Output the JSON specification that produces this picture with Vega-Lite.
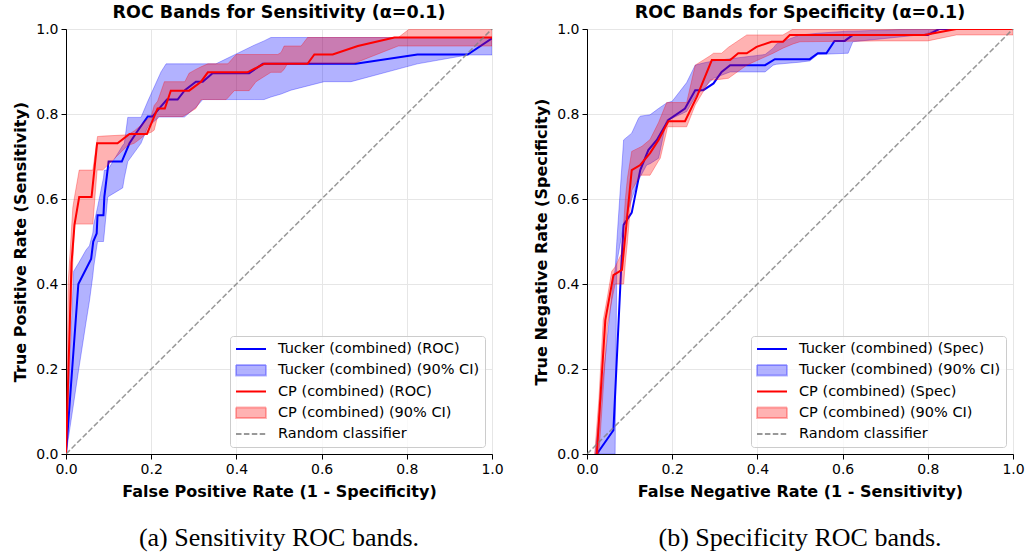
{
  "$schema": "https://vega.github.io/schema/vega-lite/v6.json",
  "background": "white",
  "padding": {"left": 12, "top": 3, "right": 6, "bottom": 2},
  "datasets": {
    "a_t_roc": [{"x":0,"y":0},{"x":0.029,"y":0.40},{"x":0.059,"y":0.459},{"x":0.064,"y":0.50},{"x":0.072,"y":0.519},{"x":0.074,"y":0.562},{"x":0.088,"y":0.562},{"x":0.09,"y":0.605},{"x":0.10,"y":0.688},{"x":0.131,"y":0.688},{"x":0.149,"y":0.731},{"x":0.164,"y":0.754},{"x":0.192,"y":0.794},{"x":0.203,"y":0.794},{"x":0.219,"y":0.813},{"x":0.237,"y":0.834},{"x":0.262,"y":0.834},{"x":0.279,"y":0.856},{"x":0.305,"y":0.876},{"x":0.321,"y":0.876},{"x":0.344,"y":0.896},{"x":0.43,"y":0.896},{"x":0.462,"y":0.918},{"x":0.68,"y":0.918},{"x":0.825,"y":0.94},{"x":0.943,"y":0.94},{"x":1.0,"y":0.978}],
    "a_t_ci": [{"x":0,"lo":0,"hi":0},{"x":0.018,"lo":0.12,"hi":0.43},{"x":0.03,"lo":0.2,"hi":0.45},{"x":0.047,"lo":0.31,"hi":0.48},{"x":0.055,"lo":0.36,"hi":0.49},{"x":0.063,"lo":0.42,"hi":0.52},{"x":0.065,"lo":0.44,"hi":0.54},{"x":0.074,"lo":0.5,"hi":0.58},{"x":0.082,"lo":0.5,"hi":0.62},{"x":0.088,"lo":0.5,"hi":0.65},{"x":0.09,"lo":0.52,"hi":0.668},{"x":0.098,"lo":0.605,"hi":0.668},{"x":0.133,"lo":0.626,"hi":0.726},{"x":0.137,"lo":0.65,"hi":0.731},{"x":0.145,"lo":0.688,"hi":0.792},{"x":0.176,"lo":0.731,"hi":0.792},{"x":0.192,"lo":0.77,"hi":0.83},{"x":0.219,"lo":0.793,"hi":0.89},{"x":0.223,"lo":0.793,"hi":0.899},{"x":0.235,"lo":0.793,"hi":0.918},{"x":0.278,"lo":0.793,"hi":0.918},{"x":0.305,"lo":0.816,"hi":0.918},{"x":0.321,"lo":0.834,"hi":0.918},{"x":0.352,"lo":0.834,"hi":0.918},{"x":0.442,"lo":0.834,"hi":0.962},{"x":0.465,"lo":0.834,"hi":0.972},{"x":0.481,"lo":0.84,"hi":0.98},{"x":0.505,"lo":0.847,"hi":0.98},{"x":0.528,"lo":0.856,"hi":0.98},{"x":0.606,"lo":0.876,"hi":0.98},{"x":0.669,"lo":0.876,"hi":0.98},{"x":0.825,"lo":0.918,"hi":0.98},{"x":0.943,"lo":0.939,"hi":0.98},{"x":1.0,"lo":0.939,"hi":0.98}],
    "a_c_roc": [{"x":0,"y":0},{"x":0.013,"y":0.45},{"x":0.02,"y":0.54},{"x":0.031,"y":0.605},{"x":0.06,"y":0.605},{"x":0.073,"y":0.731},{"x":0.121,"y":0.731},{"x":0.149,"y":0.753},{"x":0.19,"y":0.753},{"x":0.215,"y":0.813},{"x":0.232,"y":0.813},{"x":0.246,"y":0.855},{"x":0.289,"y":0.855},{"x":0.317,"y":0.876},{"x":0.333,"y":0.898},{"x":0.426,"y":0.898},{"x":0.465,"y":0.918},{"x":0.567,"y":0.918},{"x":0.583,"y":0.94},{"x":0.626,"y":0.94},{"x":0.685,"y":0.96},{"x":0.771,"y":0.98},{"x":1.0,"y":0.98}],
    "a_c_ci": [{"x":0,"lo":0,"hi":0},{"x":0.005,"lo":0.15,"hi":0.40},{"x":0.016,"lo":0.45,"hi":0.58},{"x":0.02,"lo":0.541,"hi":0.605},{"x":0.031,"lo":0.541,"hi":0.668},{"x":0.063,"lo":0.541,"hi":0.668},{"x":0.073,"lo":0.668,"hi":0.74},{"x":0.074,"lo":0.668,"hi":0.747},{"x":0.086,"lo":0.668,"hi":0.748},{"x":0.145,"lo":0.726,"hi":0.751},{"x":0.16,"lo":0.731,"hi":0.76},{"x":0.172,"lo":0.74,"hi":0.77},{"x":0.188,"lo":0.753,"hi":0.785},{"x":0.2,"lo":0.757,"hi":0.794},{"x":0.207,"lo":0.762,"hi":0.82},{"x":0.215,"lo":0.794,"hi":0.83},{"x":0.223,"lo":0.794,"hi":0.853},{"x":0.231,"lo":0.794,"hi":0.876},{"x":0.274,"lo":0.794,"hi":0.876},{"x":0.279,"lo":0.797,"hi":0.876},{"x":0.289,"lo":0.803,"hi":0.896},{"x":0.305,"lo":0.813,"hi":0.905},{"x":0.317,"lo":0.834,"hi":0.911},{"x":0.333,"lo":0.834,"hi":0.918},{"x":0.376,"lo":0.834,"hi":0.918},{"x":0.38,"lo":0.838,"hi":0.918},{"x":0.395,"lo":0.855,"hi":0.935},{"x":0.40,"lo":0.855,"hi":0.94},{"x":0.43,"lo":0.855,"hi":0.94},{"x":0.446,"lo":0.876,"hi":0.94},{"x":0.481,"lo":0.898,"hi":0.94},{"x":0.497,"lo":0.898,"hi":0.94},{"x":0.505,"lo":0.898,"hi":0.945},{"x":0.512,"lo":0.905,"hi":0.96},{"x":0.52,"lo":0.919,"hi":0.96},{"x":0.552,"lo":0.919,"hi":0.96},{"x":0.567,"lo":0.919,"hi":0.98},{"x":0.676,"lo":0.919,"hi":0.98},{"x":0.78,"lo":0.96,"hi":0.98},{"x":0.806,"lo":0.96,"hi":1.0},{"x":1.0,"lo":0.96,"hi":1.0}],
    "diag": [{"x":0,"y":0},{"x":1,"y":1}],
    "b_t_spec": [{"x":0.023,"y":0},{"x":0.062,"y":0.056},{"x":0.08,"y":0.433},{"x":0.086,"y":0.539},{"x":0.105,"y":0.568},{"x":0.125,"y":0.668},{"x":0.144,"y":0.715},{"x":0.164,"y":0.739},{"x":0.191,"y":0.786},{"x":0.23,"y":0.813},{"x":0.254,"y":0.856},{"x":0.273,"y":0.856},{"x":0.297,"y":0.872},{"x":0.316,"y":0.899},{"x":0.336,"y":0.915},{"x":0.418,"y":0.915},{"x":0.441,"y":0.929},{"x":0.523,"y":0.929},{"x":0.542,"y":0.943},{"x":0.562,"y":0.943},{"x":0.581,"y":0.972},{"x":0.605,"y":0.972},{"x":0.624,"y":0.986},{"x":0.80,"y":0.986},{"x":0.827,"y":1.0},{"x":1.0,"y":1.0}],
    "b_t_ci": [{"x":0.019,"lo":0,"hi":0},{"x":0.062,"lo":0,"hi":0.41},{"x":0.066,"lo":0,"hi":0.433},{"x":0.07,"lo":0.45,"hi":0.5},{"x":0.086,"lo":0.54,"hi":0.739},{"x":0.105,"lo":0.6,"hi":0.755},{"x":0.121,"lo":0.645,"hi":0.79},{"x":0.125,"lo":0.652,"hi":0.795},{"x":0.14,"lo":0.68,"hi":0.797},{"x":0.148,"lo":0.683,"hi":0.798},{"x":0.168,"lo":0.696,"hi":0.813},{"x":0.187,"lo":0.786,"hi":0.826},{"x":0.2,"lo":0.79,"hi":0.83},{"x":0.234,"lo":0.806,"hi":0.874},{"x":0.254,"lo":0.84,"hi":0.915},{"x":0.273,"lo":0.86,"hi":0.92},{"x":0.297,"lo":0.884,"hi":0.925},{"x":0.336,"lo":0.899,"hi":0.93},{"x":0.418,"lo":0.899,"hi":0.94},{"x":0.437,"lo":0.915,"hi":0.955},{"x":0.445,"lo":0.917,"hi":0.965},{"x":0.5,"lo":0.922,"hi":0.986},{"x":0.523,"lo":0.925,"hi":0.988},{"x":0.542,"lo":0.94,"hi":0.99},{"x":0.613,"lo":0.943,"hi":0.995},{"x":0.624,"lo":0.97,"hi":0.995},{"x":0.77,"lo":0.985,"hi":1.0},{"x":0.788,"lo":0.986,"hi":1.0},{"x":0.827,"lo":1.0,"hi":1.0},{"x":1.0,"lo":1.0,"hi":1.0}],
    "b_c_spec": [{"x":0.023,"y":0},{"x":0.043,"y":0.315},{"x":0.062,"y":0.421},{"x":0.082,"y":0.433},{"x":0.105,"y":0.668},{"x":0.125,"y":0.68},{"x":0.148,"y":0.708},{"x":0.168,"y":0.739},{"x":0.191,"y":0.783},{"x":0.23,"y":0.783},{"x":0.258,"y":0.841},{"x":0.293,"y":0.927},{"x":0.336,"y":0.927},{"x":0.355,"y":0.943},{"x":0.375,"y":0.943},{"x":0.398,"y":0.958},{"x":0.433,"y":0.97},{"x":0.46,"y":0.97},{"x":0.476,"y":0.986},{"x":0.792,"y":0.986},{"x":0.867,"y":1.0},{"x":1.0,"y":1.0}],
    "b_c_ci": [{"x":0.018,"lo":0,"hi":0},{"x":0.028,"lo":0,"hi":0.13},{"x":0.038,"lo":0.15,"hi":0.315},{"x":0.048,"lo":0.30,"hi":0.37},{"x":0.058,"lo":0.36,"hi":0.43},{"x":0.066,"lo":0.40,"hi":0.44},{"x":0.08,"lo":0.40,"hi":0.47},{"x":0.086,"lo":0.40,"hi":0.54},{"x":0.09,"lo":0.45,"hi":0.6},{"x":0.095,"lo":0.5,"hi":0.65},{"x":0.105,"lo":0.62,"hi":0.712},{"x":0.125,"lo":0.656,"hi":0.722},{"x":0.129,"lo":0.656,"hi":0.724},{"x":0.148,"lo":0.656,"hi":0.74},{"x":0.168,"lo":0.69,"hi":0.78},{"x":0.172,"lo":0.696,"hi":0.79},{"x":0.187,"lo":0.76,"hi":0.827},{"x":0.189,"lo":0.77,"hi":0.827},{"x":0.234,"lo":0.77,"hi":0.827},{"x":0.254,"lo":0.821,"hi":0.915},{"x":0.289,"lo":0.88,"hi":0.937},{"x":0.297,"lo":0.88,"hi":0.943},{"x":0.316,"lo":0.882,"hi":0.943},{"x":0.332,"lo":0.884,"hi":0.957},{"x":0.375,"lo":0.915,"hi":0.986},{"x":0.437,"lo":0.943,"hi":0.986},{"x":0.46,"lo":0.955,"hi":0.986},{"x":0.484,"lo":0.965,"hi":1.0},{"x":0.5,"lo":0.97,"hi":1.0},{"x":0.687,"lo":0.972,"hi":1.0},{"x":0.8,"lo":0.972,"hi":1.0},{"x":0.867,"lo":0.986,"hi":1.0},{"x":1.0,"lo":0.986,"hi":1.0}],
    "cap_a": [{"caption": "(a) Sensitivity ROC bands."}],
    "cap_b": [{"caption": "(b) Specificity ROC bands."}]
  },
  "columns": 2,
  "spacing": {"column": 29, "row": 25},
  "concat": [
    {
      "width": 426, "height": 425,
      "title": "ROC Bands for Sensitivity (α=0.1)",
      "encoding": {
        "x": {"field": "x", "type": "quantitative", "title": "False Positive Rate (1 - Specificity)", "scale": {"domain": [0, 1], "nice": false, "zero": false}, "axis": {"values": [0, 0.2, 0.4, 0.6, 0.8, 1], "format": ".1f"}}
      },
      "layer": [
        {"data": {"name": "a_t_roc"}, "mark": {"type": "line", "strokeWidth": 2, "clip": true},
         "encoding": {
           "y": {"field": "y", "type": "quantitative", "title": "True Positive Rate (Sensitivity)", "scale": {"domain": [0, 1], "nice": false, "zero": false}, "axis": {"values": [0, 0.2, 0.4, 0.6, 0.8, 1], "format": ".1f"}},
           "color": {"datum": "Tucker (combined) (ROC)", "type": "nominal",
             "scale": {"domain": ["Tucker (combined) (ROC)", "Tucker (combined) (90% CI)", "CP (combined) (ROC)", "CP (combined) (90% CI)", "Random classifier"], "range": ["#0000ff", "#0000ff", "#ff0000", "#ff0000", "#808080"]},
             "legend": {"title": null, "orient": "bottom-right", "offset": 7, "symbolSize": 900, "symbolType": "stroke", "symbolStrokeWidth": 1.8, "clipHeight": 16, "rowPadding": 5.25, "labelOffset": 11, "labelFontSize": 14.5, "labelLimit": 400, "labelColor": "black", "padding": 5, "fillColor": "rgba(255,255,255,0.8)", "strokeColor": "#cccccc", "cornerRadius": 3,
               "encode": {"symbols": {"update": {
                 "size": {"value": 900},
                 "strokeWidth": {"value": 1.8},
                 "shape": {"signal": "indexof(datum.value,'CI')>=0 ? 'M-1,-0.35H1V0.35H-1Z' : 'stroke'"},
                 "fill": {"signal": "indexof(datum.value,'CI')>=0 ? (indexof(datum.value,'Tucker')>=0 ? '#0000ff' : '#ff0000') : 'transparent'"},
                 "fillOpacity": {"value": 0.3},
                 "stroke": {"signal": "datum.value=='Random classifier' ? '#808080' : (indexof(datum.value,'Tucker')>=0 ? '#0000ff' : '#ff0000')"},
                 "strokeOpacity": {"signal": "indexof(datum.value,'CI')>=0 ? 0.3 : (datum.value=='Random classifier' ? 0.8 : 1)"},
                 "strokeDash": {"signal": "datum.value=='Random classifier' ? [5.5,2.4] : [1,0]"}
               }}}}}}},
        {"data": {"name": "a_t_ci"}, "mark": {"type": "area", "fillOpacity": 0.3, "stroke": "#0000ff", "strokeOpacity": 0.3, "strokeWidth": 1, "clip": true},
         "encoding": {"y": {"field": "hi", "type": "quantitative", "title": "True Positive Rate (Sensitivity)"}, "y2": {"field": "lo"}, "color": {"datum": "Tucker (combined) (90% CI)", "type": "nominal"}}},
        {"data": {"name": "a_c_roc"}, "mark": {"type": "line", "strokeWidth": 2, "clip": true},
         "encoding": {"y": {"field": "y", "type": "quantitative", "title": "True Positive Rate (Sensitivity)"}, "color": {"datum": "CP (combined) (ROC)", "type": "nominal"}}},
        {"data": {"name": "a_c_ci"}, "mark": {"type": "area", "fillOpacity": 0.3, "stroke": "#ff0000", "strokeOpacity": 0.3, "strokeWidth": 1, "clip": true},
         "encoding": {"y": {"field": "hi", "type": "quantitative", "title": "True Positive Rate (Sensitivity)"}, "y2": {"field": "lo"}, "color": {"datum": "CP (combined) (90% CI)", "type": "nominal"}}},
        {"data": {"name": "diag"}, "mark": {"type": "line", "strokeWidth": 1.5, "strokeDash": [5.5, 2.4], "opacity": 0.8, "clip": true},
         "encoding": {"y": {"field": "y", "type": "quantitative", "title": "True Positive Rate (Sensitivity)"}, "color": {"datum": "Random classifier", "type": "nominal"}}}
      ]
    },
    {
      "width": 426, "height": 425,
      "title": "ROC Bands for Specificity (α=0.1)",
      "encoding": {
        "x": {"field": "x", "type": "quantitative", "title": "False Negative Rate (1 - Sensitivity)", "scale": {"domain": [0, 1], "nice": false, "zero": false}, "axis": {"values": [0, 0.2, 0.4, 0.6, 0.8, 1], "format": ".1f"}}
      },
      "layer": [
        {"data": {"name": "b_t_spec"}, "mark": {"type": "line", "strokeWidth": 2, "clip": true},
         "encoding": {
           "y": {"field": "y", "type": "quantitative", "title": "True Negative Rate (Specificity)", "scale": {"domain": [0, 1], "nice": false, "zero": false}, "axis": {"values": [0, 0.2, 0.4, 0.6, 0.8, 1], "format": ".1f"}},
           "color": {"datum": "Tucker (combined) (Spec)", "type": "nominal",
             "scale": {"domain": ["Tucker (combined) (Spec)", "Tucker (combined) (90% CI)", "CP (combined) (Spec)", "CP (combined) (90% CI)", "Random classifier"], "range": ["#0000ff", "#0000ff", "#ff0000", "#ff0000", "#808080"]},
             "legend": {"title": null, "orient": "bottom-right", "offset": 7, "symbolSize": 900, "symbolType": "stroke", "symbolStrokeWidth": 1.8, "clipHeight": 16, "rowPadding": 5.25, "labelOffset": 11, "labelFontSize": 14.5, "labelLimit": 400, "labelColor": "black", "padding": 5, "fillColor": "rgba(255,255,255,0.8)", "strokeColor": "#cccccc", "cornerRadius": 3,
               "encode": {"symbols": {"update": {
                 "size": {"value": 900},
                 "strokeWidth": {"value": 1.8},
                 "shape": {"signal": "indexof(datum.value,'CI')>=0 ? 'M-1,-0.35H1V0.35H-1Z' : 'stroke'"},
                 "fill": {"signal": "indexof(datum.value,'CI')>=0 ? (indexof(datum.value,'Tucker')>=0 ? '#0000ff' : '#ff0000') : 'transparent'"},
                 "fillOpacity": {"value": 0.3},
                 "stroke": {"signal": "datum.value=='Random classifier' ? '#808080' : (indexof(datum.value,'Tucker')>=0 ? '#0000ff' : '#ff0000')"},
                 "strokeOpacity": {"signal": "indexof(datum.value,'CI')>=0 ? 0.3 : (datum.value=='Random classifier' ? 0.8 : 1)"},
                 "strokeDash": {"signal": "datum.value=='Random classifier' ? [5.5,2.4] : [1,0]"}
               }}}}}}},
        {"data": {"name": "b_t_ci"}, "mark": {"type": "area", "fillOpacity": 0.3, "stroke": "#0000ff", "strokeOpacity": 0.3, "strokeWidth": 1, "clip": true},
         "encoding": {"y": {"field": "hi", "type": "quantitative", "title": "True Negative Rate (Specificity)"}, "y2": {"field": "lo"}, "color": {"datum": "Tucker (combined) (90% CI)", "type": "nominal"}}},
        {"data": {"name": "b_c_spec"}, "mark": {"type": "line", "strokeWidth": 2, "clip": true},
         "encoding": {"y": {"field": "y", "type": "quantitative", "title": "True Negative Rate (Specificity)"}, "color": {"datum": "CP (combined) (Spec)", "type": "nominal"}}},
        {"data": {"name": "b_c_ci"}, "mark": {"type": "area", "fillOpacity": 0.3, "stroke": "#ff0000", "strokeOpacity": 0.3, "strokeWidth": 1, "clip": true},
         "encoding": {"y": {"field": "hi", "type": "quantitative", "title": "True Negative Rate (Specificity)"}, "y2": {"field": "lo"}, "color": {"datum": "CP (combined) (90% CI)", "type": "nominal"}}},
        {"data": {"name": "diag"}, "mark": {"type": "line", "strokeWidth": 1.5, "strokeDash": [5.5, 2.4], "opacity": 0.8, "clip": true},
         "encoding": {"y": {"field": "y", "type": "quantitative", "title": "True Negative Rate (Specificity)"}, "color": {"datum": "Random classifier", "type": "nominal"}}}
      ]
    },
    {
      "width": 426, "height": 24,
      "view": {"stroke": null},
      "data": {"name": "cap_a"},
      "mark": {"type": "text", "font": "Liberation Serif", "fontSize": 26, "color": "black"},
      "encoding": {"text": {"field": "caption", "type": "nominal"}}
    },
    {
      "width": 426, "height": 24,
      "view": {"stroke": null},
      "data": {"name": "cap_b"},
      "mark": {"type": "text", "font": "Liberation Serif", "fontSize": 26, "color": "black"},
      "encoding": {"text": {"field": "caption", "type": "nominal"}}
    }
  ],
  "resolve": {"scale": {"color": "independent"}, "legend": {"color": "independent"}},
  "config": {
    "font": "DejaVu Sans",
    "view": {"stroke": "black", "strokeWidth": 1},
    "axis": {"domainColor": "black", "tickColor": "black", "tickSize": 5, "labelFontSize": 14, "labelColor": "black", "labelFont": "DejaVu Sans", "titleFont": "DejaVu Sans", "titleFontSize": 16, "titleFontWeight": "bold", "titleColor": "black", "gridColor": "#e6e6e6", "gridWidth": 1, "labelFlush": false, "labelOverlap": false, "labelPadding": 3, "titlePadding": 7},
    "title": {"font": "DejaVu Sans", "fontSize": 17.5, "fontWeight": "bold", "color": "black", "offset": 1}
  }
}
